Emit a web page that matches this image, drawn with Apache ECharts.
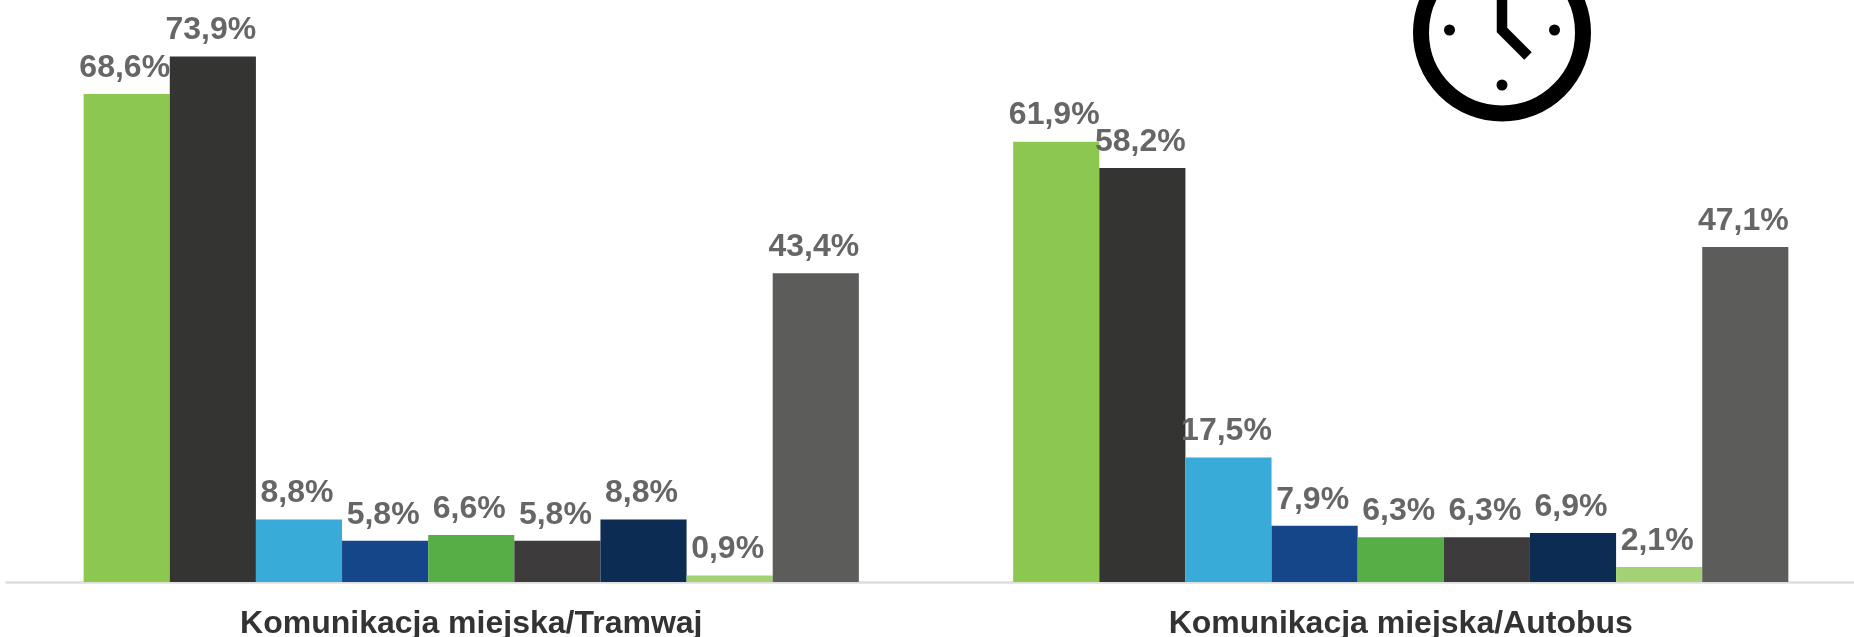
<!DOCTYPE html>
<html>
<head>
    <title>Komunikacja miejska</title>
    <script src="https://cdn.jsdelivr.net/npm/echarts@6/dist/echarts.min.js"></script>
    <style>
        html, body { margin: 0; padding: 0; background: #fff; overflow: hidden; }
        #chart { width: 1854px; height: 637px; }
    </style>
</head>
<body>
    <div id="chart"></div>

    <script>
        var categories = ['Komunikacja miejska/Tramwaj', 'Komunikacja miejska/Autobus'];
        var tramwajValues = [68.6, 73.9, 8.8, 5.8, 6.6, 5.8, 8.8, 0.9, 43.4];
        var autobusValues = [61.9, 58.2, 17.5, 7.9, 6.3, 6.3, 6.9, 2.1, 47.1];
        var barColors = ['#8CC850', '#343433', '#38ABD9', '#15468A', '#57AE47', '#3D3B3B', '#0D2C54', '#A3D173', '#5C5C5B'];

        var chart = echarts.init(document.getElementById('chart'), null, { renderer: 'canvas' });

        var series = barColors.map(function (color, i) {
            return {
                type: 'bar',
                data: [tramwajValues[i], autobusValues[i]],
                barGap: 0,
                barCategoryGap: '16.6%',
                itemStyle: { color: color },
                label: {
                    show: true,
                    position: 'top',
                    distance: -1.5,
                    offset: [-2, 0],
                    color: '#666666',
                    fontFamily: 'Liberation Sans',
                    fontWeight: 'bold',
                    fontSize: 32,
                    formatter: function (p) {
                        return p.value.toFixed(1).replace('.', ',') + '%';
                    }
                }
            };
        });

        chart.setOption({
            animation: false,
            grid: { left: 6.5, right: -11.5, top: 13, bottom: 55, outerBoundsMode: 'none' },
            xAxis: {
                type: 'category',
                data: categories,
                axisTick: { show: false },
                axisLine: { lineStyle: { color: '#DEDEDE', width: 2.5 } },
                axisLabel: {
                    color: '#333333',
                    fontFamily: 'Liberation Sans',
                    fontWeight: 'bold',
                    fontSize: 32,
                    margin: 15
                }
            },
            yAxis: { type: 'value', min: 0, max: 80, show: false, splitLine: { show: false } },
            series: series,
            // clock icon, cut off by the top of the picture
            graphic: [
                { type: 'circle', shape: { cx: 1502, cy: 32.5, r: 81 }, style: { fill: 'none', stroke: '#000', lineWidth: 16 } },
                { type: 'polyline', shape: { points: [[1502, -5], [1502, 30], [1528, 56]] }, style: { fill: 'none', stroke: '#000', lineWidth: 10.5 } },
                { type: 'circle', shape: { cx: 1449.5, cy: 30, r: 5.5 }, style: { fill: '#000' } },
                { type: 'circle', shape: { cx: 1554.5, cy: 30, r: 5.5 }, style: { fill: '#000' } },
                { type: 'circle', shape: { cx: 1502, cy: 85, r: 5.5 }, style: { fill: '#000' } }
            ]
        });
    </script>
</body>
</html>
